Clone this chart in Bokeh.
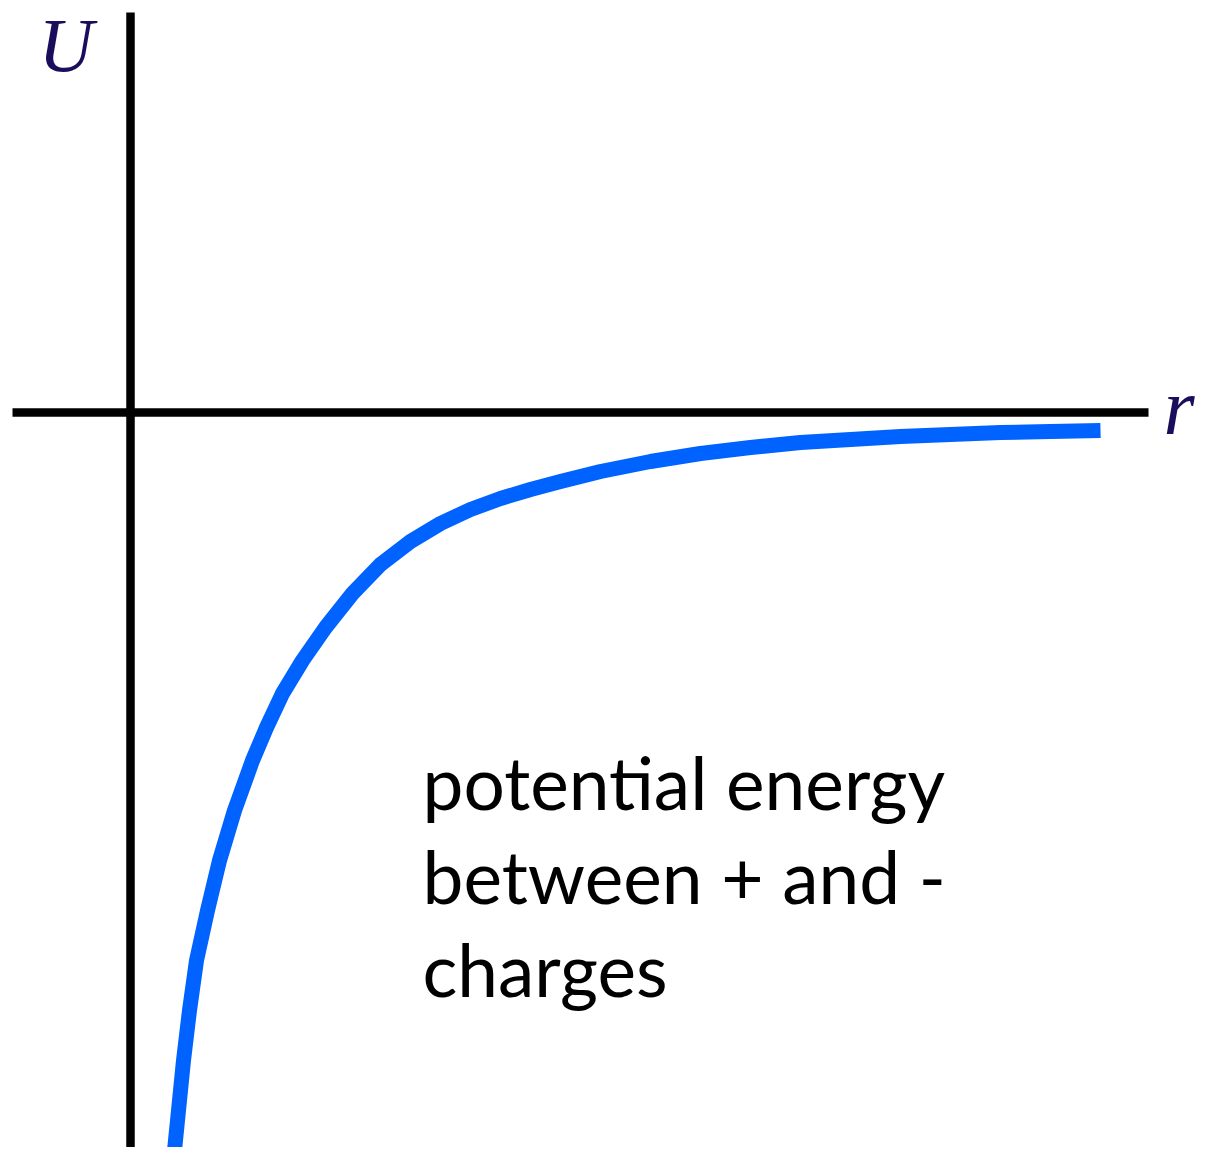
from bokeh.plotting import figure
from bokeh.models import Range1d
from bokeh.core.properties import value
from bokeh.embed import file_html
from bokeh.resources import INLINE

# Curve: r (separation) and U (potential energy)
r_vals = [0.43, 0.48, 0.53, 0.59, 0.66, 0.77, 0.89, 1.04, 1.22, 1.36, 1.52,
          1.72, 1.95, 2.22, 2.50, 2.80, 3.10, 3.40, 3.70, 4.00, 4.30, 4.70,
          5.20, 5.70, 6.20, 6.70, 7.20, 7.70, 8.20, 8.70, 9.20, 9.70]
u_vals = [-7.48, -6.98, -6.48, -5.98, -5.48, -4.98, -4.48, -3.98, -3.48, -3.15, -2.81,
          -2.48, -2.15, -1.81, -1.52, -1.29, -1.11, -0.97, -0.86, -0.77, -0.69, -0.59,
          -0.49, -0.41, -0.35, -0.30, -0.27, -0.24, -0.22, -0.20, -0.19, -0.18]

# Axis extents
h_axis_r = [-1.18, 10.18]
v_axis_u = [4.00, -8.0]

# Axis labels
u_label = ["U"]
u_label_x = [-0.92]
u_label_y = [3.68]
r_label = ["r"]
r_label_x = [10.33]
r_label_y = [0.06]

note_lines = ["potential energy", "between + and -", "charges"]
note_x = [2.92, 2.92, 2.92]
note_y = [-3.69, -4.63, -5.56]

p = figure(width=1195, height=1147, output_backend="svg", toolbar_location=None,
           x_axis_location=None, y_axis_location=None,
           x_range=Range1d(-1.30, 10.65), y_range=Range1d(-7.35, 4.12),
           min_border=0)
p.grid.visible = False
p.outline_line_color = None
p.background_fill_color = "white"
p.border_fill_color = "white"

# axes
p.segment(x0=[h_axis_r[0]], y0=[0], x1=[h_axis_r[1]], y1=[0],
          line_color="black", line_width=8.5, line_cap="butt")
p.segment(x0=[0], y0=[v_axis_u[0]], x1=[0], y1=[v_axis_u[1]],
          line_color="black", line_width=8.5, line_cap="butt")

# curve
p.line(r_vals, u_vals, line_color="#0062ff", line_width=15, line_join="round")

# axis labels
p.text(x=u_label_x, y=u_label_y, text=u_label,
       text_font=value("Liberation Serif"), text_font_style="italic",
       text_font_size="76px", text_color="#1a0e5c",
       text_align="left", text_baseline="alphabetic")
p.text(x=r_label_x, y=r_label_y, text=r_label,
       text_font=value("Liberation Serif"), text_font_style="italic",
       text_font_size="80px", text_color="#1a0e5c",
       text_align="left", text_baseline="alphabetic")

# annotation
p.text(x=note_x, y=note_y, text=note_lines,
       text_font=value("Lato"), text_font_size="73px", text_color="black",
       text_align="left", text_baseline="alphabetic")

open("out.html", "w").write(file_html(p, INLINE))
